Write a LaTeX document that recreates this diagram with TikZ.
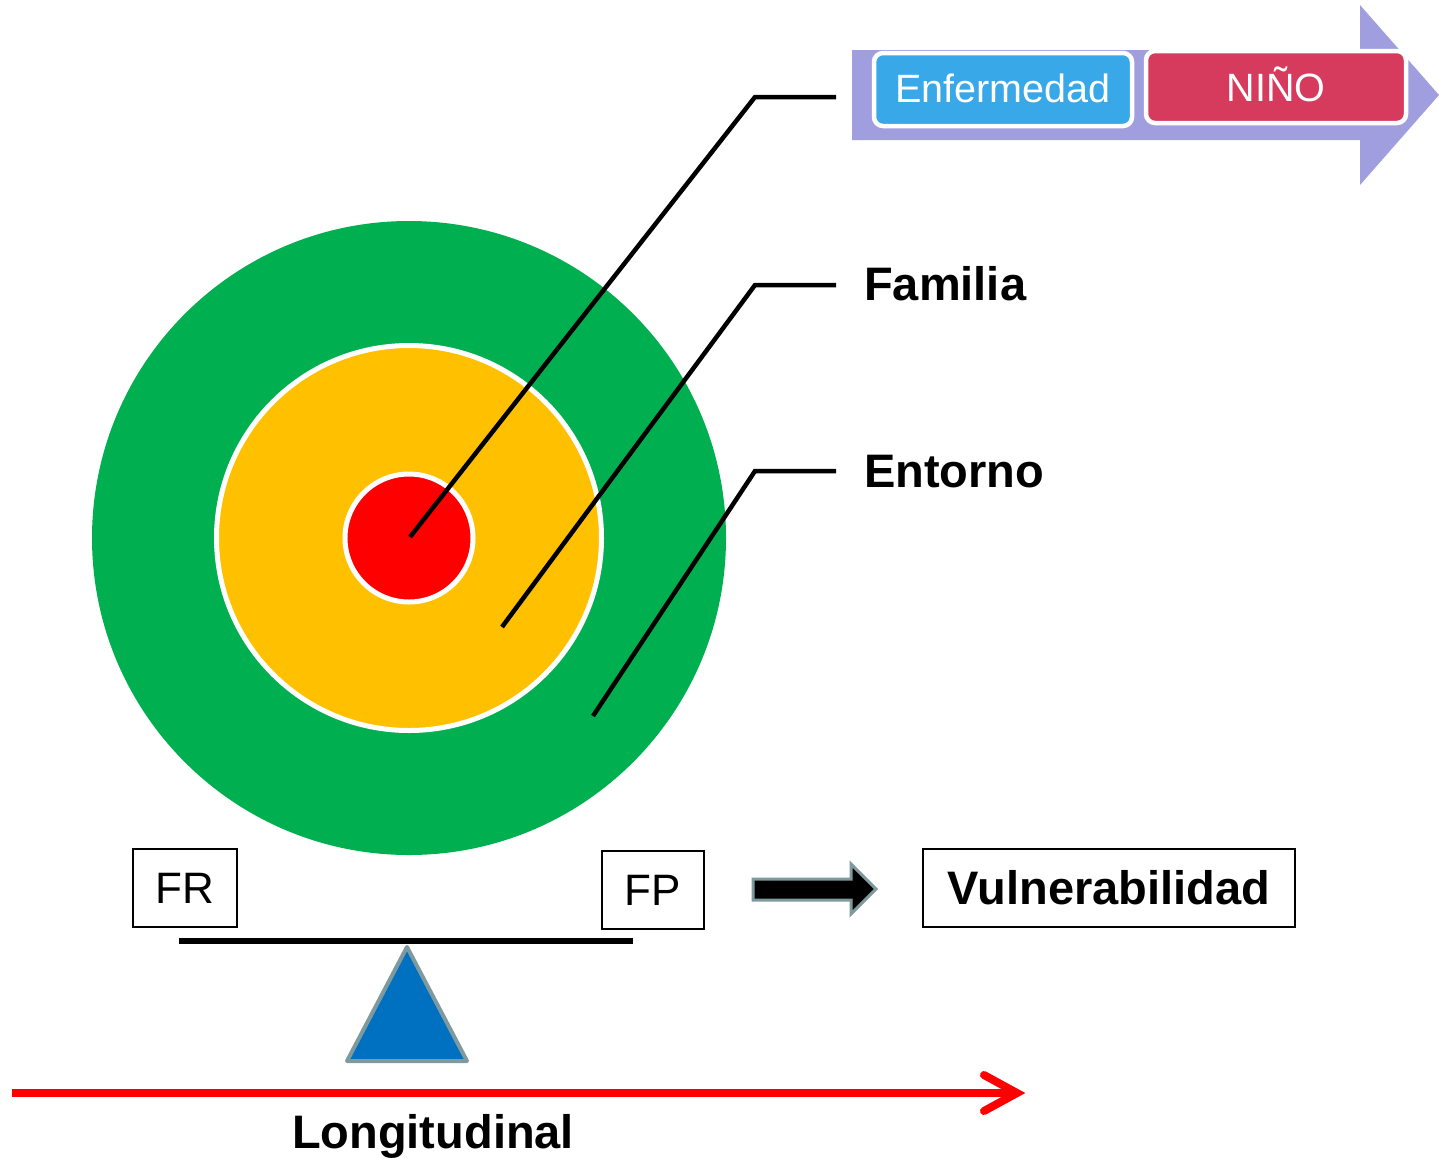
\documentclass[tikz,border=0pt]{standalone}
\usepackage{fontspec}
\setmainfont{Liberation Sans}
\usetikzlibrary{positioning}
\definecolor{cgreen}{HTML}{00B050}
\definecolor{cyellow}{HTML}{FFC000}
\definecolor{cred}{HTML}{FF0000}
\definecolor{clav}{HTML}{A09EDE}
\definecolor{cblue}{HTML}{38A8E8}
\definecolor{cpink}{HTML}{D63A5C}
\definecolor{ctri}{HTML}{0070C0}
\definecolor{cgray}{HTML}{7F9A9E}
\tikzset{
  ring/.style={circle, inner sep=0pt, line width=5pt, draw=white},
  leader/.style={line width=4.5pt, black},
  biglabel/.style={anchor=base west, inner sep=0pt, font=\fontsize{47}{50}\selectfont\bfseries},
  pill/.style={rounded corners=9pt, draw=white, line width=4.5pt, text=white, inner sep=0pt, font=\fontsize{39.5}{42}\selectfont},
  fbox/.style={draw=black, line width=2pt, inner sep=0pt, font=\fontsize{44}{46}\selectfont},
}
\begin{document}
\begin{tikzpicture}[x=1pt,y=-1pt]
\useasboundingbox (0,0) rectangle (1439,1157);
\fill[white] (0,0) rectangle (1439,1157);

% concentric circles
\node[circle, inner sep=0pt, fill=cgreen, minimum size=634pt] (green) at (409,538) {};
\node[ring, fill=cyellow, minimum size=385pt] (yellow) at (409,538) {};
\node[ring, fill=cred, minimum size=128pt] (redc) at (409,538) {};

% leader lines
\coordinate (p1) at (410,537);
\coordinate (k1) at (755,97);
\coordinate (e1) at (836,97);
\coordinate (p2) at (502,627);
\coordinate (k2) at (755,285);
\coordinate (e2) at (836,285);
\coordinate (p3) at (593,716);
\coordinate (k3) at (755,471);
\coordinate (e3) at (836,471);
\draw[leader] (p1) -- (k1) -- (e1);
\draw[leader] (p2) -- (k2) -- (e2);
\draw[leader] (p3) -- (k3) -- (e3);

\node[biglabel] (familia) at (864,300) {Familia};
\node[biglabel] (entorno) at (864,487) {Entorno};

% top arrow
\fill[clav] (852,50) -- (1360,50) -- (1360,5) -- (1439,95) -- (1360,185) -- (1360,140) -- (852,140) -- cycle;
\node[pill, fill=cblue, minimum width=258pt, minimum height=73pt] (enf) at (1003,89.5) {\raisebox{2pt}{Enfermedad}};
\node[pill, fill=cpink, minimum width=260pt, minimum height=72pt] (nino) at (1276,87) {\raisebox{6pt}{NIÑO}};

% balance
\node[fbox, minimum width=104pt, minimum height=78pt] (fr) at (185,888) {FR};
\node[fbox, minimum width=102pt, minimum height=78pt] (fp) at (653,890) {FP};
\coordinate (b1) at (179,941);
\coordinate (b2) at (633,941);
\draw[line width=6pt] (b1) -- (b2);
\coordinate (t1) at (407,947);
\coordinate (t2) at (467,1061);
\coordinate (t3) at (347,1061);
\draw[fill=ctri, draw=cgray, line width=4pt, line join=round] (t1) -- (t2) -- (t3) -- cycle;

% black arrow
\draw[fill=black, draw=cgray, line width=3pt, line join=miter] (753,879) -- (851,879) -- (851,864) -- (876,889) -- (851,914) -- (851,900) -- (753,900) -- cycle;

\node[fbox, minimum width=372pt, minimum height=78pt, font=\fontsize{47}{50}\selectfont\bfseries] (vul) at (1109,888) {Vulnerabilidad};

% longitudinal arrow
\coordinate (a1) at (12,1093);
\coordinate (a2) at (1016,1093);
\coordinate (h1) at (984,1075);
\coordinate (h2) at (984,1111);
\coordinate (tip) at (1017,1093);
\draw[cred, line width=8pt] (a1) -- (a2);
\draw[cred, line width=8pt, line cap=round, line join=miter] (h1) -- (tip) -- (h2);
\node[biglabel, anchor=base] (long) at (433,1148) {Longitudinal};
\end{tikzpicture}
\end{document}
